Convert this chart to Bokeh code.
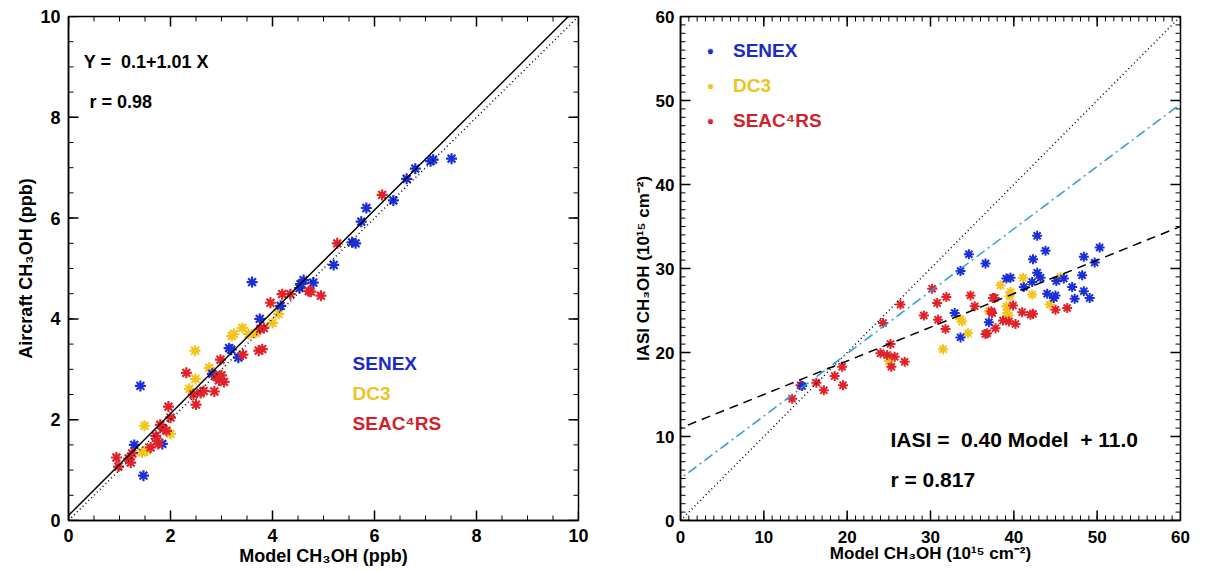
import numpy as np
from bokeh.plotting import figure
from bokeh.models import Label, Legend, LegendItem, SingleIntervalTicker, Range1d, Slope
from bokeh.layouts import row
from bokeh.embed import file_html
from bokeh.resources import INLINE

# ---------------- data: left panel (aircraft vs model, ppb) ----------------
senex_model_l = [1.29, 1.41, 1.47, 1.84, 2.82, 3.15, 3.19, 3.33, 3.60, 3.75, 4.16, 4.53, 4.55,
                 4.61, 4.80, 5.20, 5.56, 5.63, 5.74, 5.84, 6.37, 6.63, 6.80, 7.10, 7.15, 7.51]
senex_air_l = [1.50, 2.67, 0.89, 1.52, 2.91, 3.42, 3.39, 3.23, 4.73, 4.00, 4.26, 4.61, 4.69,
               4.77, 4.72, 5.07, 5.52, 5.50, 5.93, 6.20, 6.35, 6.78, 6.98, 7.13, 7.16, 7.18]
dc3_model_l = [1.44, 1.54, 1.49, 2.00, 2.37, 2.49, 2.48, 2.76, 3.20, 3.24, 3.41, 3.53, 3.67, 4.00, 4.12]
dc3_air_l = [1.35, 1.39, 1.88, 1.72, 2.61, 2.81, 3.37, 3.03, 3.66, 3.70, 3.82, 3.70, 3.72, 3.92, 4.10]
seac_model_l = [0.94, 0.98, 1.18, 1.22, 1.25, 1.61, 1.71, 1.74, 1.76, 1.80, 1.86, 1.92, 1.96, 2.00,
                2.31, 2.45, 2.50, 2.59, 2.65, 2.86, 2.90, 2.95, 3.00, 3.05, 2.98, 3.42, 3.73, 3.80,
                3.76, 3.83, 3.96, 4.19, 4.35, 4.71, 4.75, 4.95, 5.27, 6.15]
seac_air_l = [1.25, 1.07, 1.23, 1.15, 1.33, 1.45, 1.68, 1.58, 1.52, 1.90, 1.82, 1.78, 2.26, 2.04,
              2.93, 2.50, 2.30, 2.53, 2.57, 2.56, 2.85, 2.78, 2.88, 2.75, 3.19, 3.29, 3.37, 3.40,
              3.80, 3.82, 4.32, 4.49, 4.49, 4.55, 4.54, 4.46, 5.50, 6.46]
fit_l_slope, fit_l_icpt = 1.01, 0.1

# ---------------- data: right panel (IASI vs model, 1e15 cm-2) ----------------
senex_model_r = [14.6, 32.9, 33.6, 33.6, 34.6, 36.6, 37.0, 39.1, 39.6, 41.2, 42.2, 42.3, 42.8, 42.8,
                 43.2, 43.8, 44.0, 44.8, 45.0, 45.1, 46.0, 47.0, 47.3, 48.2, 48.4, 48.4, 49.1, 49.7, 50.3]
senex_iasi_r = [16.0, 24.7, 29.7, 21.8, 31.7, 30.6, 23.6, 28.8, 28.9, 27.8, 28.4, 31.1, 33.9, 29.5,
                28.9, 32.1, 27.0, 26.5, 26.8, 28.5, 28.8, 27.8, 26.4, 29.2, 27.3, 31.4, 26.5, 30.7, 32.5]
dc3_model_r = [25.0, 31.5, 33.6, 33.8, 34.5, 37.0, 38.4, 39.1, 39.2, 39.4, 39.5, 39.6, 41.1, 42.2, 44.3, 45.6]
dc3_iasi_r = [19.0, 20.4, 24.0, 23.7, 22.3, 24.9, 28.0, 25.5, 24.7, 24.4, 26.7, 27.2, 28.9, 26.9, 25.7, 29.0]
seac_model_r = [13.4, 14.4, 16.3, 17.2, 18.5, 19.4, 19.5, 24.0, 24.3, 24.8, 25.2, 25.3, 25.7, 26.4,
                26.9, 29.2, 30.2, 30.8, 30.9, 31.8, 31.9, 34.8, 35.3, 36.6, 36.8, 37.3, 37.4, 37.5,
                37.7, 37.8, 38.7, 39.4, 39.9, 40.2, 41.0, 42.0, 42.3, 45.0, 46.4]
seac_iasi_r = [14.5, 16.1, 16.4, 15.5, 17.2, 18.3, 16.1, 19.9, 23.5, 19.7, 21.0, 18.3, 19.5, 25.7,
               18.9, 24.4, 27.6, 25.9, 23.9, 22.8, 26.6, 26.8, 25.5, 22.2, 22.3, 24.9, 24.7, 26.5,
               26.5, 22.9, 23.8, 23.7, 25.6, 23.4, 24.8, 24.5, 24.6, 25.1, 25.3]
fit_r_slope, fit_r_icpt = 0.40, 11.0
rma_r_slope, rma_r_icpt = 0.743, 5.0

series_names = ["SENEX", "DC3", "SEAC\u2074RS"]
BLUE, GOLD, RED = "#1b2fd6", "#f2c41c", "#e0222a"
TXT_BLUE, TXT_GOLD, TXT_RED = "#1b2bc8", "#ecc420", "#d41f2a"
FONT = "Liberation Sans"
NB = "\u00a0"


def style(p, lo, hi, interval, nminor, tick_fs, label_fs, tick_standoff, label_standoff):
    p.grid.visible = False
    p.outline_line_color = "black"
    p.outline_line_width = 1.5
    p.background_fill_color = None
    p.border_fill_color = None
    for ax in list(p.xaxis) + list(p.yaxis):
        ax.ticker = SingleIntervalTicker(interval=interval, num_minor_ticks=nminor)
        ax.major_tick_in = 0
        ax.major_tick_out = 0
        ax.minor_tick_in = 0
        ax.minor_tick_out = 0
        ax.axis_line_color = "black"
        ax.axis_line_width = 1.5
        ax.major_label_text_font = FONT
        ax.major_label_text_font_style = "bold"
        ax.major_label_text_font_size = tick_fs
        ax.major_label_text_color = "black"
        ax.major_label_standoff = tick_standoff
        ax.axis_label_text_font = FONT
        ax.axis_label_text_font_style = "bold"
        ax.axis_label_text_font_size = label_fs
        ax.axis_label_text_color = "black"
        ax.axis_label_standoff = label_standoff
    # inward-pointing tick marks on all four frame edges (IDL style), from the ticker spacing
    major = np.arange(lo, hi + 1e-9, interval)
    minor = np.arange(lo, hi + 1e-9, interval / nminor)
    for vals, length, width in ((major, 10, 1.5), (minor, 5, 1.0)):
        n = len(vals)
        kw = dict(length=length, length_units="screen", line_color="black", line_width=width,
                  angle_units="deg")
        p.ray(x=vals, y=[lo] * n, angle=90, **kw)
        p.ray(x=vals, y=[hi] * n, angle=-90, **kw)
        p.ray(x=[lo] * n, y=vals, angle=0, **kw)
        p.ray(x=[hi] * n, y=vals, angle=180, **kw)


# ---------------- left panel ----------------
p1 = figure(width=620, height=571, x_range=Range1d(0, 10), y_range=Range1d(0, 10),
            output_backend="svg", toolbar_location=None,
            min_border_left=68, min_border_right=42, min_border_top=15, min_border_bottom=51,
            x_axis_label="Model CH\u2083OH (ppb)", y_axis_label="Aircraft CH\u2083OH (ppb)")
style(p1, 0, 10, 2, 4, "18px", "18px", 8, 1)

p1.add_layout(Slope(gradient=1.0, y_intercept=0.0, line_color="black", line_width=1.5, line_dash="1 3"))
p1.add_layout(Slope(gradient=fit_l_slope, y_intercept=fit_l_icpt, line_color="black", line_width=1.5))

p1.scatter(dc3_model_l, dc3_air_l, marker="asterisk", size=11, line_color=GOLD, line_width=2.2)
p1.scatter(senex_model_l, senex_air_l, marker="asterisk", size=11, line_color=BLUE, line_width=2.2)
p1.scatter(seac_model_l, seac_air_l, marker="asterisk", size=11, line_color=RED, line_width=2.2)

lab_kw = dict(text_font=FONT, text_font_style="bold", text_baseline="middle")
p1.add_layout(Label(x=0.3, y=9.1, text=f"Y ={NB} 0.1+1.01 X", text_font_size="18px",
                    text_color="black", **lab_kw))
p1.add_layout(Label(x=0.41, y=8.3, text="r = 0.98", text_font_size="18px", text_color="black", **lab_kw))
for name, yy, col in zip(series_names, [3.11, 2.51, 1.92], [TXT_BLUE, TXT_GOLD, TXT_RED]):
    p1.add_layout(Label(x=5.57, y=yy, text=name, text_font_size="19px", text_color=col, **lab_kw))

# ---------------- right panel ----------------
p2 = figure(width=588, height=571, x_range=Range1d(0, 60), y_range=Range1d(0, 60),
            output_backend="svg", toolbar_location=None,
            min_border_left=60, min_border_right=28, min_border_top=16, min_border_bottom=49,
            x_axis_label="Model CH\u2083OH (10\u00b9\u2075 cm\u207b\u00b2)",
            y_axis_label="IASI CH\u2083OH (10\u00b9\u2075 cm\u207b\u00b2)")
style(p2, 0, 60, 10, 10, "17px", "17px", 10, -2)
p2.yaxis[0].major_label_standoff = 6
p2.yaxis[0].axis_label_standoff = 0

p2.add_layout(Slope(gradient=1.0, y_intercept=0.0, line_color="black", line_width=1.5, line_dash="1 3"))
p2.add_layout(Slope(gradient=rma_r_slope, y_intercept=rma_r_icpt, line_color="#2a9ed8", line_width=1.5,
                    line_dash="10 4 2 4"))
p2.add_layout(Slope(gradient=fit_r_slope, y_intercept=fit_r_icpt, line_color="black", line_width=1.5,
                    line_dash="9 6"))

p2.scatter(dc3_model_r, dc3_iasi_r, marker="asterisk", size=10, line_color=GOLD, line_width=2)
p2.scatter(seac_model_r, seac_iasi_r, marker="asterisk", size=10, line_color=RED, line_width=2)
p2.scatter(senex_model_r, senex_iasi_r, marker="asterisk", size=10, line_color=BLUE, line_width=2)

# legend (one per entry so each label gets its own colour)
nan = float("nan")
for i, (name, mcol, tcol) in enumerate(zip(series_names, [BLUE, GOLD, RED], [TXT_BLUE, TXT_GOLD, TXT_RED])):
    dummy = p2.scatter([nan], [nan], marker="asterisk", size=10, line_color=mcol, line_width=1.3)
    lg = Legend(items=[LegendItem(label=name, renderers=[dummy])],
                location=(23, 458 - 35 * i), background_fill_alpha=0, border_line_alpha=0,
                padding=0, margin=0, glyph_width=14, glyph_height=22, label_height=22,
                label_standoff=16, label_text_font=FONT, label_text_font_style="bold",
                label_text_font_size="19px", label_text_color=tcol)
    p2.add_layout(lg)

p2.add_layout(Label(x=25.2, y=9.6, text=f"IASI ={NB} 0.40 Model{NB} + 11.0", text_font_size="21px",
                    text_color="black", **lab_kw))
p2.add_layout(Label(x=25.2, y=4.9, text="r = 0.817", text_font_size="21px", text_color="black", **lab_kw))

layout = row(p1, p2)
open("out.html", "w").write(file_html(layout, INLINE))
